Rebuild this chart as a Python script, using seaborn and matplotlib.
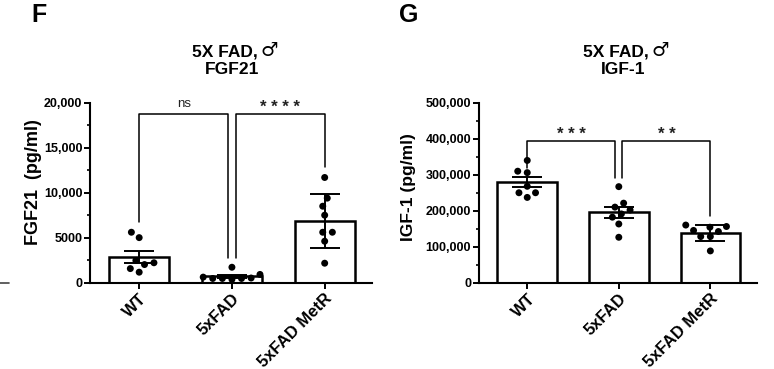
import numpy as np
import pandas as pd
import seaborn as sns
import matplotlib.pyplot as plt
from matplotlib.ticker import FuncFormatter, MultipleLocator
from matplotlib.lines import Line2D
from matplotlib.collections import PathCollection

# group names
groups = ["WT", "5xFAD", "5xFAD MetR"]

# FGF21 (pg/ml)
fgf21_wt = [5600, 5000, 2200, 2000, 2450, 1150, 1550]
fgf21_fad = [450, 900, 450, 1700, 600, 500, 450, 350]
fgf21_metr = [11700, 9400, 8500, 7500, 5600, 5600, 4600, 2150]

# IGF-1 (pg/ml)
igf1_wt = [340000, 306000, 310000, 268000, 237000, 250000, 250000]
igf1_fad = [267000, 221000, 210000, 202000, 191000, 182000, 163000, 126000]
igf1_metr = [160000, 154000, 156000, 142000, 145000, 128000, 128000, 88000]

# error bar type per group as drawn in the figure
err_kind = {"WT": "sem", "5xFAD": "sem", "5xFAD MetR": "std"}

# significance brackets: (group a, group b, top, leg a end, leg b end, label)
fgf21_sig = [(0, 1, 18800, 6750, 2700, "ns"), (1, 2, 18800, 2700, 12900, "* * * *")]
igf1_sig = [(0, 1, 393000, 319000, 291000, "* * *"), (1, 2, 393000, 291000, 186000, "* *")]


def make_df(wt, fad, metr):
    vals = wt + fad + metr
    grp = ["WT"] * len(wt) + ["5xFAD"] * len(fad) + ["5xFAD MetR"] * len(metr)
    return pd.DataFrame({"group": grp, "value": vals})


def fmt_tick(v, pos):
    v = int(round(v))
    return f"{v:,}" if v >= 10000 else str(v)


def draw_panel(ax, df, ymax, major, minor, ylabel, ylabel_size, sig, sig_off):
    sns.barplot(data=df, x="group", y="value", order=groups, errorbar=None,
                width=0.65, color="white", edgecolor="black", linewidth=1.8,
                saturation=1, ax=ax, zorder=2)
    stats = df.groupby("group")["value"].agg(["mean", "std", "sem"]).reindex(groups)
    err = [stats.loc[g, err_kind[g]] for g in groups]
    ax.errorbar(np.arange(len(groups)), stats["mean"], yerr=err, fmt="none",
                ecolor="black", elinewidth=1.4, capsize=10.5, capthick=1.4, zorder=3)
    sns.swarmplot(data=df, x="group", y="value", order=groups, color="black",
                  size=5, linewidth=1.6, ax=ax, zorder=4)
    # keep the wider swarm spacing but hide the marker rims
    for c in ax.collections:
        if isinstance(c, PathCollection):
            c.set_edgecolor("none")

    for a, b, top, ya, yb, label in sig:
        xa = a + (0.04 if a == 1 else 0)
        xb = b - (0.04 if b == 1 else 0)
        ax.plot([xa, xa, xb, xb], [ya, top, top, yb], color="black", lw=1.1,
                clip_on=False, zorder=5)
        if label == "ns":
            ax.text((xa + xb) / 2, top + sig_off, label, ha="center", va="center",
                    fontsize=9.5, color="#222222")
        else:
            ax.text((xa + xb) / 2, top + sig_off * 0.2, label, ha="center",
                    va="baseline", fontsize=12, fontweight="bold", color="#222222")

    ax.set_ylim(0, ymax)
    ax.set_xlim(-0.53, 2.51)
    ax.yaxis.set_major_locator(MultipleLocator(major))
    ax.yaxis.set_minor_locator(MultipleLocator(minor))
    ax.yaxis.set_major_formatter(FuncFormatter(fmt_tick))
    ax.set_xlabel("")
    ax.set_ylabel(ylabel, fontsize=ylabel_size, fontweight="bold")
    sns.despine(ax=ax)
    for s in ["left", "bottom"]:
        ax.spines[s].set_linewidth(1.5)
    ax.tick_params(axis="both", which="major", length=4, width=1.4, direction="out")
    ax.tick_params(axis="y", which="minor", length=2.5, width=1.2)
    ax.tick_params(axis="y", labelsize=9, pad=1.5)
    ax.tick_params(axis="x", pad=2)
    for t in ax.get_yticklabels():
        t.set_fontweight("bold")
    ax.set_xticks(range(len(groups)))
    ax.set_xticklabels(groups, rotation=45, ha="right", va="top",
                       rotation_mode="anchor", fontsize=12, fontweight="bold")


sns.set_style("ticks")
plt.rcParams["font.family"] = ["Liberation Sans", "DejaVu Sans"]
plt.rcParams.update({"text.color": "black", "axes.labelcolor": "black",
                     "xtick.color": "black", "ytick.color": "black",
                     "axes.edgecolor": "black"})

fig = plt.figure(figsize=(7.74, 3.69), dpi=100)
ax1 = fig.add_axes([0.1163, 0.2344, 0.3643, 0.4865])
ax2 = fig.add_axes([0.6185, 0.2344, 0.3596, 0.4865])

draw_panel(ax1, make_df(fgf21_wt, fgf21_fad, fgf21_metr), 20000, 5000, 2500,
           "FGF21  (pg/ml)", 13, fgf21_sig, 1100)
draw_panel(ax2, make_df(igf1_wt, igf1_fad, igf1_metr), 500000, 100000, 50000,
           "IGF-1 (pg/ml)", 12.5, igf1_sig, 27000)
ax1.yaxis.set_label_coords(-0.17, 0.56)
ax2.yaxis.set_label_coords(-0.225, 0.53)

# titles: text in Liberation Sans, the male sign from DejaVu Sans
for x_text, x_sign, name in [(258, 260, "FGF21"), (649, 651, "IGF-1")]:
    fig.text(x_text / 774, 1 - 52 / 369, "5X FAD,", ha="right", va="center",
             fontsize=12.5, fontweight="bold")
    fig.text(x_sign / 774, 1 - 50 / 369, "\u2642", ha="left", va="center",
             fontsize=14, fontweight="bold", family=["DejaVu Sans"])
    fig.text((x_text - 26) / 774, 1 - 70 / 369, name, ha="center", va="center",
             fontsize=12.5, fontweight="bold")

# panel letters
fig.text(31 / 774, 1 - 15 / 369, "F", ha="left", va="center", fontsize=18, fontweight="bold")
fig.text(399 / 774, 1 - 15 / 369, "G", ha="left", va="center", fontsize=18, fontweight="bold")

# small dash at the left edge (neighbouring panel)
fig.add_artist(Line2D([0, 9 / 774], [1 - 283 / 369] * 2, color="#444444", lw=1.2,
                      transform=fig.transFigure))

fig.savefig("out.png", dpi=100)
